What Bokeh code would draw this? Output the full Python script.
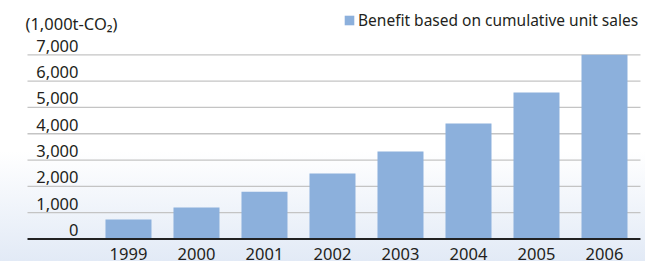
from bokeh.plotting import figure
from bokeh.models import Range1d, ColumnDataSource, Legend, LegendItem, Label
from bokeh.core.properties import value
from bokeh.embed import file_html
from bokeh.resources import INLINE

# ---- data ----
years = ["1999", "2000", "2001", "2002", "2003", "2004", "2005", "2006"]
benefit = [740, 1200, 1800, 2490, 3330, 4390, 5570, 7000]
y_ticks = [0, 1000, 2000, 3000, 4000, 5000, 6000, 7000]
y_tick_labels = ["0", "1,000", "2,000", "3,000", "4,000", "5,000", "6,000", "7,000"]
unit_label = "(1,000t-CO\u2082)"
series_name = "Benefit based on cumulative unit sales"

FONT = "Noto Sans"
FS = "16.5px"
TXT = "#231f20"
BAR = "#8cb0dc"

W, H = 645, 261
p = figure(width=W, height=H, output_backend="svg", toolbar_location=None,
           x_range=Range1d(-1.882, 7.603), y_range=Range1d(-855, 9065),
           min_border=0, min_border_left=0, min_border_right=0,
           min_border_top=0, min_border_bottom=0)
p.axis.visible = False
p.grid.visible = False
p.outline_line_color = None
p.background_fill_alpha = 0
p.border_fill_alpha = 0
p.styles = {"background": "linear-gradient(to bottom, #ffffff 0%, #ffffff 58%, #e2eaf6 100%)"}

xs = list(range(len(years)))
x_left, x_right = -1.485, 7.529

# gridlines
grid_src = ColumnDataSource(dict(y=y_ticks[1:]))
p.segment(x0=x_left, x1=x_right, y0="y", y1="y", source=grid_src,
          line_color="#c4c4c4", line_width=1.3)

# bars
src = ColumnDataSource(dict(x=xs, top=benefit, year=years))
bars = p.vbar(x="x", top="top", bottom=0, width=46 / 68, source=src,
              fill_color=BAR, line_color=None)

# axis line
p.segment(x0=[x_left], x1=[x_right], y0=[0], y1=[0], line_color="#222222", line_width=2)

# y tick labels (above gridlines)
ysrc = ColumnDataSource(dict(y=y_ticks, t=y_tick_labels))
p.text(x=-0.735, y="y", text="t", source=ysrc, text_align="right",
       text_baseline="alphabetic", y_offset=-9,
       text_font=value(FONT), text_font_size=FS, text_color=TXT)

# year labels
p.text(x="x", y=0, text="year", source=src, text_align="center",
       text_baseline="alphabetic", y_offset=15,
       text_font=value(FONT), text_font_size=FS, text_color=TXT)

# unit label
p.add_layout(Label(x=-1.515, y=8191, text=unit_label, text_align="left",
                   text_baseline="alphabetic", text_font=FONT,
                   text_font_size=FS, text_color=TXT))

legend = Legend(items=[LegendItem(label=series_name, renderers=[bars])],
                location=(343, 230), orientation="horizontal",
                glyph_width=12, glyph_height=12, label_standoff=3,
                padding=0, spacing=0, margin=0,
                border_line_alpha=0, background_fill_alpha=0,
                label_text_font=FONT, label_text_font_size="15.5px",
                label_text_color=TXT)
p.add_layout(legend)

open("out.html", "w").write(file_html(p, INLINE))
